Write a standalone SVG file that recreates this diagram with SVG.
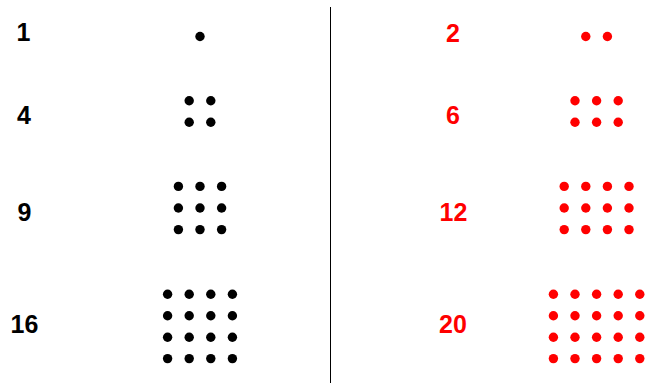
<svg xmlns="http://www.w3.org/2000/svg" width="653" height="383" viewBox="0 0 653 383">
<style>
text{font-family:"Liberation Sans",Arial,sans-serif;font-weight:bold;font-size:25px;text-anchor:middle}
.k{fill:#000}
.r{fill:#ff0000}
</style>
<defs>
<circle id="d" r="4.7"/>
</defs>
<rect width="653" height="383" fill="#fff"/>
<g id="divider"><line x1="330.5" y1="7" x2="330.5" y2="383" stroke="#000" stroke-width="1"/></g>
<g id="n1" class="k">
<text x="23.5" y="41">1</text>
<use href="#d" x="200" y="36.5"/>
</g>
<g id="n4" class="k">
<text x="24" y="123.5">4</text>
<use href="#d" x="189.2" y="100.7"/><use href="#d" x="210.8" y="100.7"/>
<use href="#d" x="189.2" y="122.3"/><use href="#d" x="210.8" y="122.3"/>
</g>
<g id="n9" class="k">
<text x="24.5" y="221">9</text>
<use href="#d" x="178.4" y="186.4"/><use href="#d" x="200" y="186.4"/><use href="#d" x="221.6" y="186.4"/>
<use href="#d" x="178.4" y="208"/><use href="#d" x="200" y="208"/><use href="#d" x="221.6" y="208"/>
<use href="#d" x="178.4" y="229.6"/><use href="#d" x="200" y="229.6"/><use href="#d" x="221.6" y="229.6"/>
</g>
<g id="n16" class="k">
<text x="24.5" y="333">16</text>
<use href="#d" x="167.6" y="294.2"/><use href="#d" x="189.2" y="294.2"/><use href="#d" x="210.8" y="294.2"/><use href="#d" x="232.4" y="294.2"/>
<use href="#d" x="167.6" y="315.8"/><use href="#d" x="189.2" y="315.8"/><use href="#d" x="210.8" y="315.8"/><use href="#d" x="232.4" y="315.8"/>
<use href="#d" x="167.6" y="337.2"/><use href="#d" x="189.2" y="337.2"/><use href="#d" x="210.8" y="337.2"/><use href="#d" x="232.4" y="337.2"/>
<use href="#d" x="167.6" y="358.6"/><use href="#d" x="189.2" y="358.6"/><use href="#d" x="210.8" y="358.6"/><use href="#d" x="232.4" y="358.6"/>
</g>
<g id="n2" class="r">
<text x="453" y="41.5">2</text>
<use href="#d" x="585.8" y="36.5"/><use href="#d" x="607.4" y="36.5"/>
</g>
<g id="n6" class="r">
<text x="453" y="123.5">6</text>
<use href="#d" x="575" y="100.7"/><use href="#d" x="596.6" y="100.7"/><use href="#d" x="618.2" y="100.7"/>
<use href="#d" x="575" y="122.3"/><use href="#d" x="596.6" y="122.3"/><use href="#d" x="618.2" y="122.3"/>
</g>
<g id="n12" class="r">
<text x="453.5" y="221">12</text>
<use href="#d" x="564.2" y="186.4"/><use href="#d" x="585.8" y="186.4"/><use href="#d" x="607.4" y="186.4"/><use href="#d" x="629" y="186.4"/>
<use href="#d" x="564.2" y="208"/><use href="#d" x="585.8" y="208"/><use href="#d" x="607.4" y="208"/><use href="#d" x="629" y="208"/>
<use href="#d" x="564.2" y="229.6"/><use href="#d" x="585.8" y="229.6"/><use href="#d" x="607.4" y="229.6"/><use href="#d" x="629" y="229.6"/>
</g>
<g id="n20" class="r">
<text x="453" y="333">20</text>
<use href="#d" x="553.4" y="294.2"/><use href="#d" x="575" y="294.2"/><use href="#d" x="596.6" y="294.2"/><use href="#d" x="618.2" y="294.2"/><use href="#d" x="639.8" y="294.2"/>
<use href="#d" x="553.4" y="315.8"/><use href="#d" x="575" y="315.8"/><use href="#d" x="596.6" y="315.8"/><use href="#d" x="618.2" y="315.8"/><use href="#d" x="639.8" y="315.8"/>
<use href="#d" x="553.4" y="337.2"/><use href="#d" x="575" y="337.2"/><use href="#d" x="596.6" y="337.2"/><use href="#d" x="618.2" y="337.2"/><use href="#d" x="639.8" y="337.2"/>
<use href="#d" x="553.4" y="358.6"/><use href="#d" x="575" y="358.6"/><use href="#d" x="596.6" y="358.6"/><use href="#d" x="618.2" y="358.6"/><use href="#d" x="639.8" y="358.6"/>
</g>
</svg>
